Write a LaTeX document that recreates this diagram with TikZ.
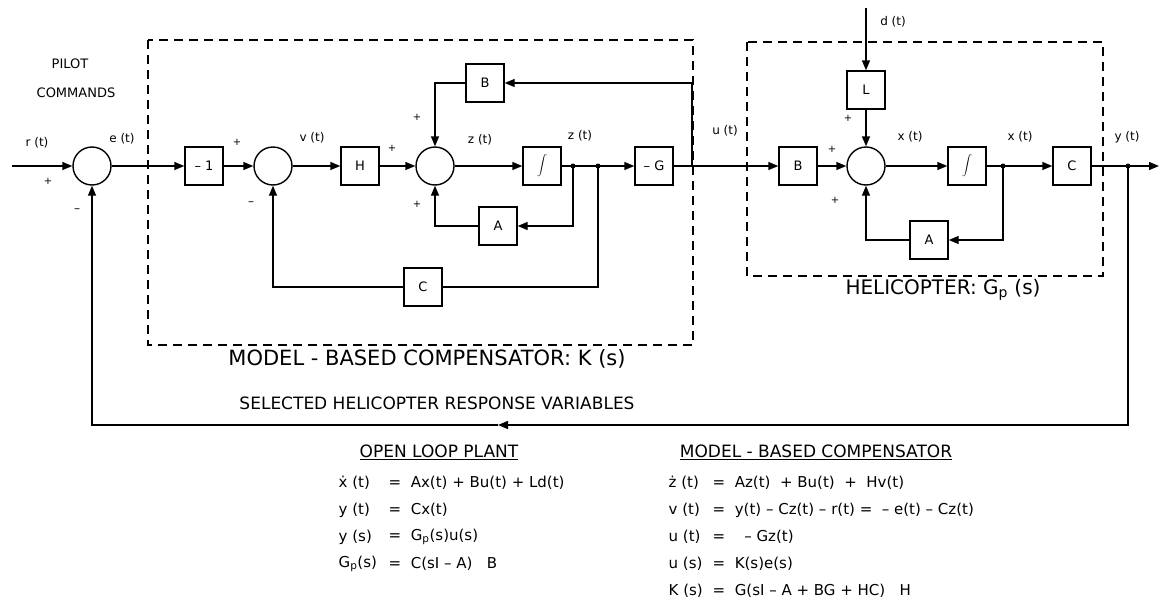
\documentclass[tikz,border=0pt]{standalone}
\usepackage{fontspec}
\setmainfont{DejaVu Sans}
\usepackage{tikz}
\usetikzlibrary{arrows.meta}

\begin{document}
\begin{tikzpicture}[x=1pt,y=-1pt,line width=1.4pt,
  >={Triangle[length=10pt,width=8pt]},
  blk/.style={draw,minimum width=38pt,minimum height=38pt,inner sep=0pt,font=\fontsize{13}{15}\selectfont},
  sumj/.style={draw,circle,minimum size=38pt,inner sep=0pt},
  sig/.style={font=\fontsize{12}{14}\selectfont,inner sep=0pt},
  sgn/.style={font=\fontsize{10}{12}\selectfont,inner sep=0pt},
  frame/.style={dash pattern=on 9pt off 6pt,line width=1.4pt},
  eqn/.style={anchor=west,font=\fontsize{15}{18}\selectfont,inner sep=0pt}]
\useasboundingbox (0,0) rectangle (1160,616);
% frames
\draw[frame] (148,40) rectangle (693,345);
\draw[frame] (747,42) rectangle (1103,276);
% compensator
\node[sumj] (sumr) at (92,166) {};
\node[blk] (gneg) at (204,166) {– 1};
\node[sumj] (sumv) at (273,166) {};
\node[blk] (boxH) at (360,166) {H};
\node[sumj] (sumz) at (435,166) {};
\node[blk,font=\fontsize{9}{11}\selectfont] (intz) at (542,166) {$\displaystyle\int$};
\node[blk] (boxG) at (654,166) {– G};
\node[blk] (boxBk) at (485,83) {B};
\node[blk] (boxAk) at (498,226) {A};
\node[blk] (boxCk) at (423,287) {C};
% helicopter
\node[blk] (boxBp) at (798,166) {B};
\node[blk] (boxL) at (866,90) {L};
\node[sumj] (sumx) at (866,166) {};
\node[blk,font=\fontsize{9}{11}\selectfont] (intx) at (967,166) {$\displaystyle\int$};
\node[blk] (boxCp) at (1072,166) {C};
\node[blk] (boxAp) at (929,240) {A};
% branch points
\coordinate (rin) at (12,166);
\coordinate (dz1) at (573,166);
\coordinate (dz2) at (598,166);
\coordinate (tapu) at (692,166);
\coordinate (din) at (866,8);
\coordinate (dx) at (1003,166);
\coordinate (dy) at (1128,166);
\coordinate (yout) at (1159,166);
\coordinate (fbmid) at (498,425);
\foreach \d in {dz1,dz2,dx,dy} \fill (\d) circle (2.5pt);
% connectors
\draw[->] (rin) -- (sumr);
\draw[->] (sumr) -- (gneg);
\draw[->] (gneg) -- (sumv);
\draw[->] (sumv) -- (boxH);
\draw[->] (boxH) -- (sumz);
\draw[->] (sumz) -- (intz);
\draw[->] (intz) -- (boxG);
\draw[->] (boxG) -- (boxBp);
\draw[->] (tapu) |- (boxBk);
\draw[->] (boxBk) -| (sumz);
\draw[->] (dz1) |- (boxAk);
\draw[->] (boxAk) -| (sumz);
\draw (dz2) |- (boxCk);
\draw[->] (boxCk) -| (sumv);
\draw[->] (boxBp) -- (sumx);
\draw[->] (din) -- (boxL);
\draw[->] (boxL) -- (sumx);
\draw[->] (sumx) -- (intx);
\draw[->] (intx) -- (boxCp);
\draw[->] (dx) |- (boxAp);
\draw[->] (boxAp) -| (sumx);
\draw[->] (boxCp) -- (yout);
\draw[->] (dy) |- (fbmid);
\draw[->] (fbmid) -| (sumr);
% signal labels
\node[sig] (lr) at (37,143) {r (t)};
\node[sig] (le) at (122,139) {e (t)};
\node[sig] (lv) at (312,138) {v (t)};
\node[sig] (lzd) at (480,140) {z (t)};
\node[sig] (lz) at (580,136) {z (t)};
\node[sig] (lu) at (725,131) {u (t)};
\node[sig] (ld) at (893,22) {d (t)};
\node[sig] (lxd) at (910,137) {x (t)};
\node[sig] (lx) at (1020,137) {x (t)};
\node[sig] (ly) at (1127,137) {y (t)};
\node[sig] (mr) at (77,211) {–};
\node[sig] (mv) at (251,204) {–};
\foreach \px/\py [count=\i] in {48/181,237/142,392/148,417/117,417/204,832/149,848/118,835/200}
  \node[sgn] (p\i) at (\px,\py) {+};
\node[font=\fontsize{13}{15}\selectfont] (pilot) at (70,64) {PILOT};
\node[font=\fontsize{13}{15}\selectfont] (cmds) at (76,93) {COMMANDS};
% block titles
\node[font=\fontsize{21}{24}\selectfont] (tcomp) at (427,359) {MODEL - BASED COMPENSATOR: K (s)};
\node[font=\fontsize{20}{24}\selectfont] (theli) at (943,290) {HELICOPTER: G\textsubscript{p} (s)};
\node[font=\fontsize{17}{20}\selectfont] (tfb) at (437,403) {SELECTED HELICOPTER RESPONSE VARIABLES};
% equations
\node[font=\fontsize{17}{20}\selectfont] (hplant) at (439,452) {\underline{OPEN LOOP PLANT}};
\node[font=\fontsize{17}{20}\selectfont] (hcomp) at (816,452) {\underline{MODEL - BASED COMPENSATOR}};
\node[eqn] (pl1) at (338,483) {ẋ (t)};
\node[eqn] (pr1) at (388,483) {=\ \ Ax(t) + Bu(t) + Ld(t)};
\node[eqn] (pl2) at (338,510) {y (t)};
\node[eqn] (pr2) at (388,510) {=\ \ Cx(t)};
\node[eqn] (pl3) at (338,537) {y (s)};
\node[eqn] (pr3) at (388,537) {=\ \ G\textsubscript{p}(s)u(s)};
\node[eqn] (pl4) at (338,564) {G\textsubscript{p}(s)};
\node[eqn] (pr4) at (388,564) {=\ \ C(sI – A)\ \ \ B};
\node[eqn] (cl1) at (668,483) {ż (t)};
\node[eqn] (cr1) at (712,483) {=\ \ Az(t)\ \ + Bu(t)\ \ +\ \ Hv(t)};
\node[eqn] (cl2) at (668,510) {v (t)};
\node[eqn] (cr2) at (712,510) {=\ \ y(t) – Cz(t) – r(t) =\ \ – e(t) – Cz(t)};
\node[eqn] (cl3) at (668,537) {u (t)};
\node[eqn] (cr3) at (712,537) {=\ \ \ \ – Gz(t)};
\node[eqn] (cl4) at (668,564) {u (s)};
\node[eqn] (cr4) at (712,564) {=\ \ K(s)e(s)};
\node[eqn] (cl5) at (668,591) {K (s)};
\node[eqn] (cr5) at (712,591) {=\ \ G(sI – A + BG + HC)\ \ \ H};
\end{tikzpicture}
\end{document}
